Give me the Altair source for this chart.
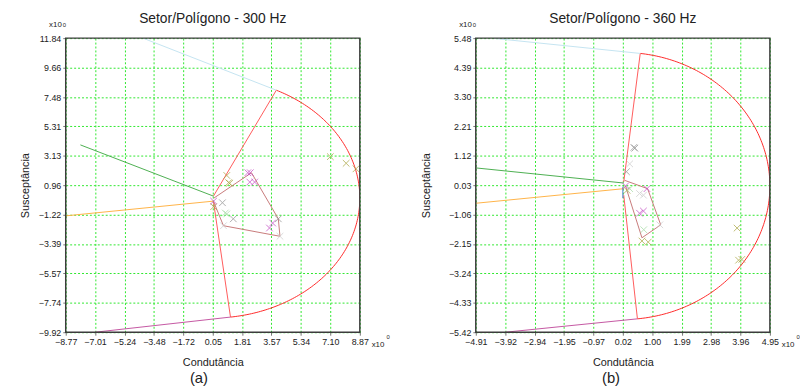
import altair as alt
import numpy as np
import pandas as pd

# ---------------- Panel (a): 300 Hz ----------------
A_TITLE = "Setor/Polígono - 300 Hz"
A_CAPTION = "(a)"
A_XTICKS = [-8.77, -7.01, -5.24, -3.48, -1.72, 0.05, 1.81, 3.57, 5.34, 7.10, 8.87]
A_YTICKS = [-9.92, -7.74, -5.57, -3.39, -1.22, 0.96, 3.13, 5.31, 7.48, 9.66, 11.84]
A_RADIUS = 8.87
A_ARC_DEG = [64.2, -82.8]
A_APEX_UP = [0.09, 0.15]
A_APEX_LO = [0.09, -0.25]
A_BLUE_END = [-4.14, 11.84]
A_GREEN = [[-7.89, 3.94], [0.09, 0.15]]
A_ORANGE = [[-8.77, -1.31], [0.09, -0.22]]
A_PURPLE_START = [-7.01, -9.92]
A_BLUESEG = []
A_POLY = [[0.11, 0.0], [2.37, 1.88], [3.98, -1.53], [4.08, -2.82], [0.69, -2.04], [0.11, -0.29]]
A_OLIVE = [[0.89, 1.68], [1.00, 1.15], [1.06, 1.10], [0.10, -0.63], [7.10, 3.07], [8.05, 2.58], [8.64, 2.17]]
A_MAGENTA = [[2.15, 1.88], [2.30, 1.88], [2.27, 1.19], [2.56, 1.19], [0.10, -0.22], [3.64, -1.84], [3.45, -2.21]]
A_GRAY = [[0.63, -0.34], [1.28, -1.53], [3.98, -1.53]]
A_LIGHTGRAY = [[4.08, -2.82], [0.69, -2.04]]
A_LIGHTGREEN = [[0.89, -1.17], [0.80, -1.10]]

# ---------------- Panel (b): 360 Hz ----------------
B_TITLE = "Setor/Polígono - 360 Hz"
B_CAPTION = "(b)"
B_XTICKS = [-4.91, -3.92, -2.94, -1.95, -0.97, 0.02, 1.00, 1.99, 2.98, 3.96, 4.95]
B_YTICKS = [-5.42, -4.33, -3.24, -2.15, -1.06, 0.03, 1.12, 2.21, 3.30, 4.39, 5.48]
B_RADIUS = 4.95
B_ARC_DEG = [83.0, -84.1]
B_APEX_UP = [0.05, 0.15]
B_APEX_LO = [0.05, -0.34]
B_BLUE_END = [-4.30, 5.47]
B_GREEN = [[-4.91, 0.67], [0.05, 0.11]]
B_ORANGE = [[-4.91, -0.64], [0.05, -0.10]]
B_PURPLE_START = [-3.92, -5.42]
B_BLUESEG = [[0.02, -0.03], [0.02, -0.45]]
B_POLY = [[0.08, 0.21], [0.85, -0.10], [1.29, -1.44], [0.66, -1.92], [0.11, 0.0]]
B_OLIVE = [[0.16, -0.16], [0.66, -2.04], [0.87, -2.08], [3.85, -1.56], [3.90, -2.75], [4.01, -2.72]]
B_MAGENTA = [[0.11, 0.0], [0.83, -0.10], [0.58, -1.01], [0.71, -0.93]]
B_GRAY = [[0.39, 1.43], [0.42, 1.40], [0.14, 0.53]]
B_LIGHTGRAY = [[0.25, 0.82], [0.58, -0.28], [0.71, -0.34], [1.26, -1.44]]
B_LIGHTGREEN = [[0.25, -0.10], [0.72, -1.62]]

LINE_SERIES = ["arc", "sector_up", "sector_lo", "lightblue", "green", "orange", "purple", "blue", "polygon"]
LINE_COLORS = ["#ff2a2a", "#ff5a5a", "#ff5a5a", "#c4e4f1", "#4caf50", "#ffb347", "#c456a2", "#4a7fd0", "#c77a7a"]
MARK_SERIES = ["olive", "magenta", "gray", "lightgray", "lightgreen"]
MARK_COLORS = ["#a6a23a", "#c244c2", "#8c8c8c", "#cacaca", "#a2d9a2"]

FONT = "Liberation Sans"
W = 298
H = 298


def line_frame(radius, arc_deg, apex_up, apex_lo, blue_end, green, orange, purple_start, blueseg, poly):
    ang = np.radians(np.linspace(arc_deg[0], arc_deg[1], 160))
    arc_pts = [[radius * np.cos(a), radius * np.sin(a)] for a in ang]
    top = arc_pts[0]
    bot = arc_pts[-1]
    series = {
        "arc": arc_pts,
        "sector_up": [apex_up, top],
        "sector_lo": [apex_lo, bot],
        "lightblue": [top, blue_end],
        "green": green,
        "orange": orange,
        "purple": [purple_start, bot],
        "blue": blueseg,
        "polygon": poly,
    }
    rows = []
    for name, pts in series.items():
        for i, (x, y) in enumerate(pts):
            rows.append({"x": x, "y": y, "s": name, "o": i})
    return pd.DataFrame(rows)


def mark_frame(groups):
    rows = []
    for name, pts in zip(MARK_SERIES, groups):
        for x, y in pts:
            rows.append({"x": x, "y": y, "s": name})
    return pd.DataFrame(rows)


def panel(title, caption, xt, yt, lines, marks, ytitle_x, cap_x):
    xs = alt.Scale(domain=[xt[0], xt[-1]], nice=False, zero=False)
    ys = alt.Scale(domain=[yt[0], yt[-1]], nice=False, zero=False)
    xax = alt.Axis(values=xt, format=".2f", title="Condutância", titleY=33.5,
                   titleBaseline="alphabetic", labelFlush=False)
    yax = alt.Axis(values=yt, format=".2f", title="Susceptância", titleX=ytitle_x,
                   titleBaseline="alphabetic", labelFlush=False)
    X = alt.X("x:Q", scale=xs, axis=xax)
    Y = alt.Y("y:Q", scale=ys, axis=yax)

    ln = alt.Chart(lines).mark_line(strokeWidth=1, clip=True).encode(
        x=X, y=Y,
        color=alt.Color("s:N", scale=alt.Scale(domain=LINE_SERIES, range=LINE_COLORS), legend=None),
        detail="s:N",
        order="o:Q",
    )
    pt = alt.Chart(marks).mark_point(
        shape="M-1,-1L1,1M-1,1L1,-1", filled=False, strokeWidth=1, size=45, clip=True
    ).encode(
        x=X, y=Y,
        stroke=alt.Stroke("s:N", scale=alt.Scale(domain=MARK_SERIES, range=MARK_COLORS), legend=None),
    )
    one = pd.DataFrame({"_": [0]})

    frame = alt.Chart(one).mark_rect(
        fillOpacity=0, stroke="#3c3c3c", strokeWidth=1.5
    ).encode(x=alt.value(0), x2=alt.value(W), y=alt.value(0), y2=alt.value(H))

    def txt(text, x, y, size, align="center", baseline="alphabetic", color="#222"):
        return alt.Chart(one).mark_text(
            text=text, fontSize=size, align=align, baseline=baseline, font=FONT, color=color
        ).encode(x=alt.value(x), y=alt.value(y))

    annots = [
        txt(title, W / 2, -15, 14),
        txt("x10", -4, -11.5, 8, align="right"),
        txt("0", -3, -11.5, 6, align="left"),
        txt("x10", 310, 313, 8, align="left"),
        txt("0", 325, 305, 6, align="left"),
        txt(caption, cap_x, 349.5, 15),
    ]
    return alt.layer(ln, pt, frame, *annots).properties(width=W, height=H)


left = panel(
    A_TITLE, A_CAPTION, A_XTICKS, A_YTICKS,
    line_frame(A_RADIUS, A_ARC_DEG, A_APEX_UP, A_APEX_LO, A_BLUE_END, A_GREEN, A_ORANGE,
               A_PURPLE_START, A_BLUESEG, A_POLY),
    mark_frame([A_OLIVE, A_MAGENTA, A_GRAY, A_LIGHTGRAY, A_LIGHTGREEN]),
    -37.5, 135,
)
right = panel(
    B_TITLE, B_CAPTION, B_XTICKS, B_YTICKS,
    line_frame(B_RADIUS, B_ARC_DEG, B_APEX_UP, B_APEX_LO, B_BLUE_END, B_GREEN, B_ORANGE,
               B_PURPLE_START, B_BLUESEG, B_POLY),
    mark_frame([B_OLIVE, B_MAGENTA, B_GRAY, B_LIGHTGRAY, B_LIGHTGREEN]),
    -47.3, 137,
)

chart = alt.hconcat(left, right, spacing=117.5, bounds="flush").properties(
    padding={"left": 11.5, "top": 2, "right": 0, "bottom": 0}
).configure_view(
    stroke=None
).configure_axis(
    grid=True, gridColor="#2ee82e", gridDash=[2, 2], gridWidth=1, gridOpacity=1,
    domain=False, ticks=True, tickSize=3, tickColor="#777",
    labelFont=FONT, labelFontSize=9, labelColor="#222", labelPadding=2,
    titleFont=FONT, titleFontSize=11, titleFontWeight="normal", titleColor="#222",
)

chart.save("out.html", embed_options={"renderer": "svg", "actions": False})
